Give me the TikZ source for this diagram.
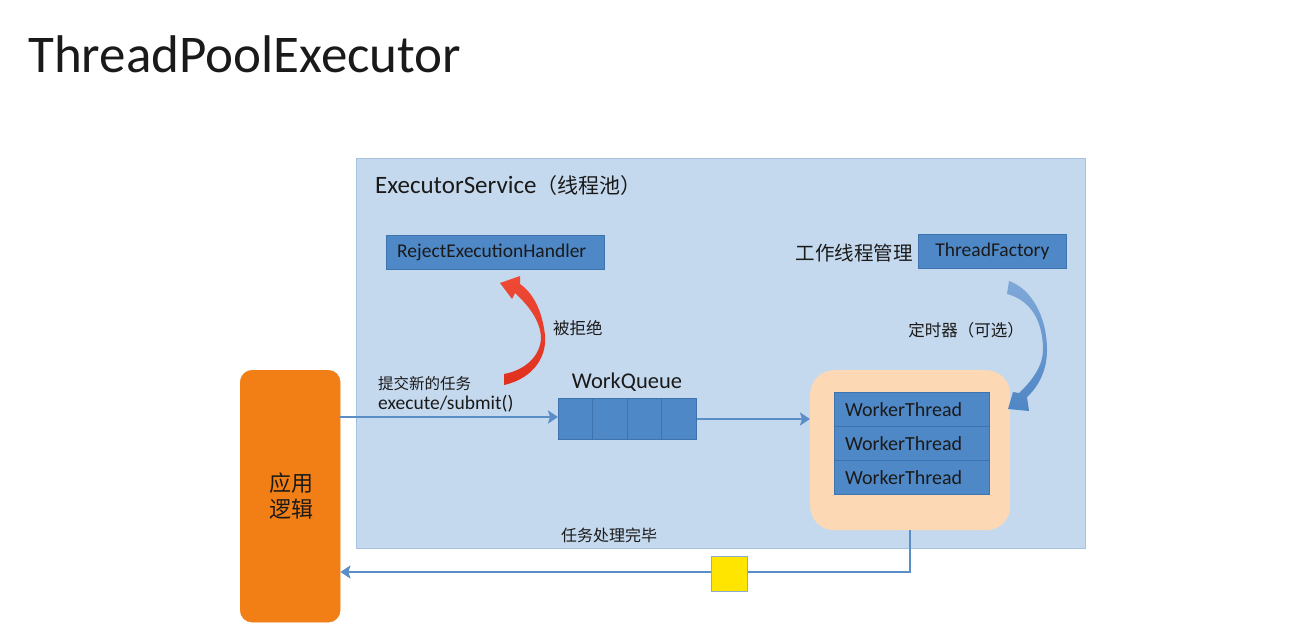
\documentclass[tikz,border=0pt]{standalone}
\usepackage{fontspec}
\setmainfont{Carlito}
\newfontfamily\cjk{Noto Sans CJK SC}
\usetikzlibrary{arrows.meta}
\definecolor{poolbg}{HTML}{C5D9EE}
\definecolor{poolbd}{HTML}{A7C2DF}
\definecolor{boxblue}{HTML}{4F88C6}
\definecolor{boxbd}{HTML}{3F73AE}
\definecolor{linkblue}{HTML}{5B8DC6}
\definecolor{appor}{HTML}{F17F15}
\definecolor{peach}{HTML}{FCD9B4}
\definecolor{rejtop}{HTML}{EE4A36}
\definecolor{rejbot}{HTML}{E0301E}
\definecolor{tftop}{HTML}{7FA8D8}
\definecolor{tfbot}{HTML}{4F86C5}
\definecolor{txt}{HTML}{1A1A1A}
\definecolor{yel}{HTML}{FFE500}
\tikzset{
  x=1pt,y=-1pt,
  bluebox/.style={draw=boxbd,fill=boxblue,line width=0.8pt,inner sep=0pt,text=txt},
  link/.style={draw=linkblue,line width=2.6pt,-{Stealth[width=13pt,length=10pt,inset=2pt]}},
  lbl/.style={text=txt,inner sep=0pt},
  latin/.style={lbl,font=\fontsize{19.5}{22}\selectfont},
}
\begin{document}
\begin{tikzpicture}
\useasboundingbox[fill=white] (0,0) rectangle (1303,629);
% title
\node[lbl,anchor=west,font=\fontsize{53}{56}\selectfont] (title) at (28,54) {ThreadPoolExecutor};
% pool
\node[draw=poolbd,fill=poolbg,line width=1.2pt,minimum width=729pt,minimum height=390pt,anchor=north west,inner sep=0pt] (pool) at (356,158) {};
\node[lbl,anchor=west,font=\fontsize{25}{28}\selectfont] (pooltitle) at (375,186) {ExecutorService{\cjk\fontsize{21}{24}\selectfont （线程池）}};
% reject handler
\node[bluebox,anchor=north west,minimum width=218pt,minimum height=34pt] (rej) at (386,235) {};
\node[latin,anchor=west] (rejt) at (397,252) {RejectExecutionHandler};
% thread factory
\node[bluebox,anchor=north west,minimum width=148pt,minimum height=34pt] (tf) at (918,234) {};
\node[latin] (tft) at (tf.center) {ThreadFactory};
\node[lbl,anchor=east,font=\cjk\fontsize{19.5}{22}\selectfont] (mgr) at (913,253) {工作线程管理};
% app
\node[draw=appor,fill=appor,rounded corners=12pt,minimum width=100pt,minimum height=252pt,anchor=north west,inner sep=0pt] (app) at (240,370) {};
\node[lbl,align=center,font=\cjk\fontsize{22}{26}\selectfont] (appt) at (291,496) {应用\\逻辑};
% queue
\node[bluebox,anchor=north west,minimum width=138pt,minimum height=41pt] (queue) at (558,398) {};
\foreach \i in {1,2,3} \draw[boxbd,line width=0.8pt] (558+34.5*\i,398) -- (558+34.5*\i,439);
\node[lbl,font=\fontsize{22.5}{26}\selectfont] (wq) at (627,382) {WorkQueue};
% worker pool
\node[fill=peach,rounded corners=24pt,minimum width=200pt,minimum height=160pt,anchor=north west,inner sep=0pt] (wp) at (810,370) {};
\foreach \i/\n in {0/w1,1/w2,2/w3}{
  \node[bluebox,anchor=north west,minimum width=155pt,minimum height=34pt] (\n) at (834,392+34*\i) {};
  \node[lbl,anchor=west,font=\fontsize{20}{22}\selectfont] at (845,410+34*\i) {WorkerThread};
}
% labels
\node[lbl,anchor=west,font=\cjk\fontsize{15.5}{18}\selectfont] (sub1) at (378,384) {提交新的任务};
\node[latin,anchor=west] (sub2) at (378,404) {execute/submit()};
\node[lbl,anchor=west,font=\cjk\fontsize{16.5}{18}\selectfont] (rejl) at (553,328) {被拒绝};
\node[lbl,anchor=east,font=\cjk\fontsize{16.5}{18}\selectfont] (timer) at (1024,330) {定时器（可选）};
\node[lbl,anchor=west,font=\cjk\fontsize{16}{18}\selectfont] (done) at (561,535) {任务处理完毕};
% connectors
\draw[link] (app.east |- 0,417) -- (queue.west |- 0,417);
\draw[link] (queue.east |- 0,419) -- (wp.west |- 0,419);
\coordinate (ret1) at (910,530);
\coordinate (ret2) at (910,572);
\draw[link] (ret1) -- (ret2) -- (app.east |- ret2);
\node[draw=boxbd!60,fill=yel,line width=0.8pt,minimum width=36pt,minimum height=35pt,inner sep=0pt] (tok) at (729,574) {};
% red reject arrow (thick at both ends, thin in the middle)
\shade[top color=rejtop,bottom color=rejbot]
  (504,385) .. controls (535,378) and (547,355) .. (545,335)
  .. controls (542,310) and (533,293) .. (520,284)
  -- (520,276) -- (500,283) -- (512,299) -- (515,293)
  .. controls (528,305) and (540,320) .. (541,337)
  .. controls (541,355) and (526,370) .. (504,374) -- cycle;
% blue factory arrow
\shade[top color=tftop,bottom color=tfbot]
  (1009,281) .. controls (1030,288) and (1047,315) .. (1047,350)
  .. controls (1047,370) and (1039,386) .. (1027,397)
  -- (1029,411) -- (1008,409) -- (1013,392) -- (1019,393)
  .. controls (1033,380) and (1043,365) .. (1043,350)
  .. controls (1043,320) and (1030,300) .. (1007,294) -- cycle;
\end{tikzpicture}
\end{document}
